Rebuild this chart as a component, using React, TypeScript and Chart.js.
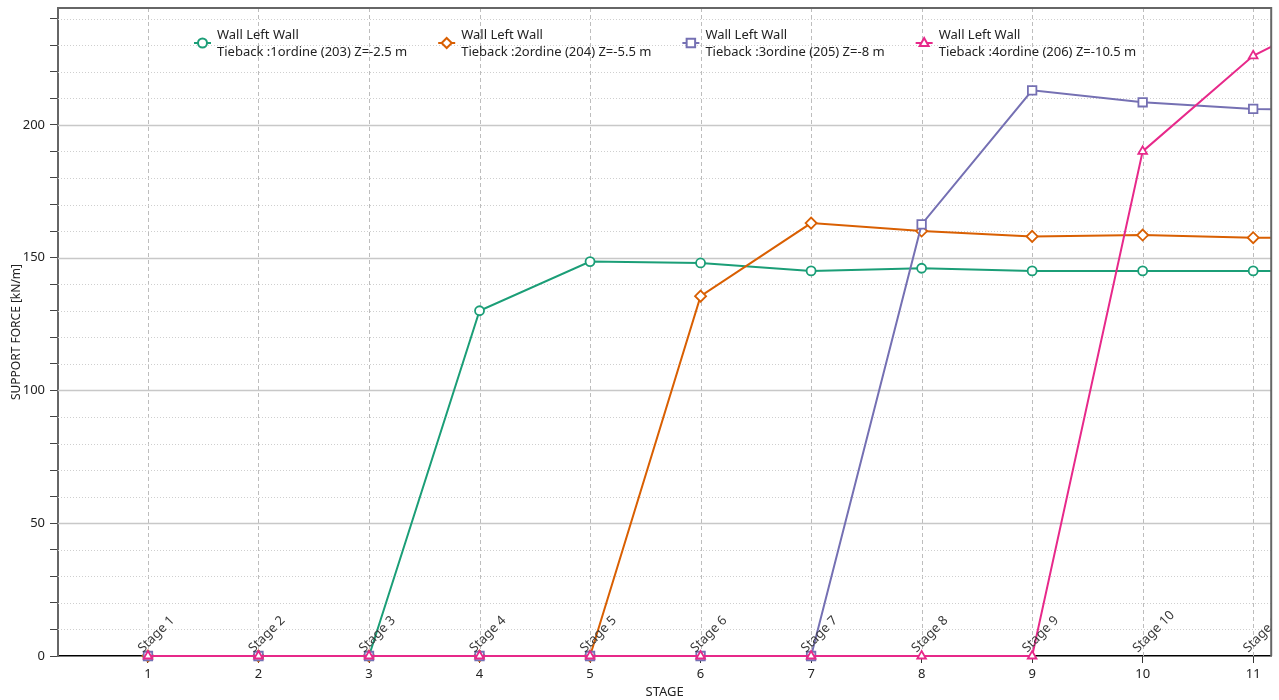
import React, { useEffect, useRef } from 'react';
import { Chart, registerables } from 'chart.js';

Chart.register(...registerables);

const FONT = "'Segoe UI', 'Noto Sans', sans-serif";

// x positions (stages). Stage 12 lies beyond the visible right edge (clipped).
const STAGES = [1, 2, 3, 4, 5, 6, 7, 8, 9, 10, 11, 12];
const STAGE_TICKS = [1, 2, 3, 4, 5, 6, 7, 8, 9, 10, 11];
const STAGE_LABELS = ['Stage 1', 'Stage 2', 'Stage 3', 'Stage 4', 'Stage 5', 'Stage 6', 'Stage 7', 'Stage 8', 'Stage 9', 'Stage 10', 'Stage 11'];
const Y_TICKS = [0, 10, 20, 30, 40, 50, 60, 70, 80, 90, 100, 110, 120, 130, 140, 150, 160, 170, 180, 190, 200, 210, 220, 230, 240];

const LEGEND_TITLE = 'Wall Left Wall';
const SERIES_NAMES = [
  'Tieback :1ordine (203) Z=-2.5 m',
  'Tieback :2ordine (204) Z=-5.5 m',
  'Tieback :3ordine (205) Z=-8 m',
  'Tieback :4ordine (206) Z=-10.5 m',
];
const TIEBACK_1 = [0, 0, 0, 130, 148.5, 148, 145, 146, 145, 145, 145, 145];
const TIEBACK_2 = [0, 0, 0, 0, 0, 135.5, 163, 160, 158, 158.5, 157.5, 157.5];
const TIEBACK_3 = [0, 0, 0, 0, 0, 0, 0, 162.5, 213, 208.5, 206, 205.5];
const TIEBACK_4 = [0, 0, 0, 0, 0, 0, 0, 0, 0, 190, 226, 247];
const COLORS = ['#1b9e77', '#d95f02', '#7570b3', '#e7298a'];
const MARKERS = ['circle', 'rectRot', 'rect', 'triangle'];
const MARKER_RADIUS = [4.5, 5.5, 6, 5];

const X_MIN = 0.186;
const X_MAX = 11.163;
const Y_MIN = 0;
const Y_MAX = 244;

const gridPlugin = {
  id: 'customGrid',
  beforeDatasetsDraw(chart: any) {
    const { ctx, chartArea, scales } = chart;
    const xs = scales.x;
    const ys = scales.y;
    ctx.save();
    ctx.strokeStyle = '#bdbdbd';
    ctx.lineWidth = 1;
    ctx.setLineDash([4, 3]);
    STAGE_TICKS.forEach((v) => {
      const px = Math.round(xs.getPixelForValue(v)) + 0.5;
      ctx.beginPath();
      ctx.moveTo(px, chartArea.top);
      ctx.lineTo(px, chartArea.bottom);
      ctx.stroke();
    });
    Y_TICKS.forEach((v) => {
      if (v === 0) return;
      const py = Math.round(ys.getPixelForValue(v)) + 0.5;
      if (v % 50 === 0) {
        ctx.setLineDash([]);
        ctx.strokeStyle = '#c8c8c8';
        ctx.lineWidth = 1.5;
      } else {
        ctx.setLineDash([1, 2]);
        ctx.strokeStyle = '#cfcfcf';
        ctx.lineWidth = 1;
      }
      ctx.beginPath();
      ctx.moveTo(chartArea.left, py);
      ctx.lineTo(chartArea.right, py);
      ctx.stroke();
    });
    ctx.restore();
  },
  afterDatasetsDraw(chart: any) {
    const { ctx, chartArea, scales } = chart;
    const xs = scales.x;
    const ys = scales.y;
    ctx.save();
    ctx.beginPath();
    ctx.rect(0, chartArea.top, chartArea.right, chartArea.bottom - chartArea.top + 6);
    ctx.clip();
    ctx.font = `13px ${FONT}`;
    ctx.fillStyle = '#3a3a3a';
    ctx.textAlign = 'left';
    ctx.textBaseline = 'alphabetic';
    STAGE_LABELS.forEach((lab, i) => {
      const px = xs.getPixelForValue(STAGE_TICKS[i]);
      const py = ys.getPixelForValue(0);
      ctx.save();
      ctx.translate(px - 5, py - 3);
      ctx.rotate(-Math.PI / 4);
      ctx.fillText(lab, 0, 0);
      ctx.restore();
    });
    ctx.restore();
  },
  afterDraw(chart: any) {
    const { ctx, chartArea } = chart;
    ctx.save();
    ctx.strokeStyle = '#666';
    ctx.lineWidth = 2;
    ctx.beginPath();
    ctx.moveTo(chartArea.left, chartArea.top);
    ctx.lineTo(chartArea.right, chartArea.top);
    ctx.lineTo(chartArea.right, chartArea.bottom);
    ctx.stroke();

    ctx.font = `13px ${FONT}`;
    ctx.textAlign = 'left';
    ctx.textBaseline = 'middle';
    let x = 194;
    const y1 = 35;
    const y2 = 52;
    const ym = 43;
    SERIES_NAMES.forEach((name, i) => {
      const color = COLORS[i];
      ctx.strokeStyle = color;
      ctx.lineWidth = 2;
      ctx.setLineDash([]);
      ctx.beginPath();
      ctx.moveTo(x, ym);
      ctx.lineTo(x + 17, ym);
      ctx.stroke();
      ctx.save();
      ctx.fillStyle = '#fff';
      ctx.strokeStyle = color;
      ctx.lineWidth = 2;
      const cx = x + 8.5;
      const r = MARKER_RADIUS[i];
      ctx.beginPath();
      if (MARKERS[i] === 'circle') {
        ctx.arc(cx, ym, r, 0, Math.PI * 2);
      } else if (MARKERS[i] === 'rectRot') {
        const s = r * Math.SQRT1_2 * 1.3;
        ctx.moveTo(cx, ym - s);
        ctx.lineTo(cx + s, ym);
        ctx.lineTo(cx, ym + s);
        ctx.lineTo(cx - s, ym);
        ctx.closePath();
      } else if (MARKERS[i] === 'rect') {
        const s = r * Math.SQRT1_2;
        ctx.rect(cx - s, ym - s, 2 * s, 2 * s);
      } else {
        const h = r;
        ctx.moveTo(cx, ym - h);
        ctx.lineTo(cx + h * 0.9, ym + h * 0.6);
        ctx.lineTo(cx - h * 0.9, ym + h * 0.6);
        ctx.closePath();
      }
      ctx.fill();
      ctx.stroke();
      ctx.restore();
      ctx.fillStyle = '#222';
      ctx.fillText(LEGEND_TITLE, x + 23, y1);
      ctx.fillText(name, x + 23, y2);
      const w = Math.max(ctx.measureText(LEGEND_TITLE).width, ctx.measureText(name).width);
      x += 23 + w + 31;
    });
    ctx.restore();
  },
};

export default function App() {
  const ref = useRef<HTMLCanvasElement>(null);
  useEffect(() => {
    document.body.style.margin = '0';
    const series = [TIEBACK_1, TIEBACK_2, TIEBACK_3, TIEBACK_4];
    const datasets = series.map((vals, i) => ({
      label: SERIES_NAMES[i],
      data: vals.map((v, j) => ({ x: STAGES[j], y: v })),
      borderColor: COLORS[i],
      backgroundColor: '#ffffff',
      borderWidth: 2,
      pointStyle: MARKERS[i],
      pointRadius: MARKER_RADIUS[i],
      pointBorderWidth: 1.8,
      pointBackgroundColor: '#ffffff',
      pointBorderColor: COLORS[i],
      tension: 0,
      order: 4 - i,
      clip: { left: false, top: 0, right: 0, bottom: false },
    }));
    const chart = new Chart(ref.current as HTMLCanvasElement, {
      type: 'line',
      data: { datasets } as any,
      options: {
        animation: false,
        responsive: false,
        layout: { padding: { left: 0, right: 7, top: 8, bottom: 0 } },
        plugins: { legend: { display: false }, tooltip: { enabled: false } },
        scales: {
          x: {
            type: 'linear',
            min: X_MIN,
            max: X_MAX,
            afterBuildTicks: (s: any) => {
              s.ticks = STAGE_TICKS.map((v) => ({ value: v }));
            },
            afterFit: (s: any) => {
              s.height = 44;
              s.paddingLeft = 0;
              s.paddingRight = 0;
            },
            grid: { drawOnChartArea: false, drawTicks: true, tickLength: 7, tickColor: '#333', tickWidth: 1 },
            border: { color: '#000', width: 1.5 },
            ticks: {
              autoSkip: false,
              maxRotation: 0,
              padding: 3,
              color: '#222',
              font: { family: FONT, size: 13 },
              callback: (v: any) => String(v),
            },
            title: {
              display: true,
              text: 'STAGE',
              color: '#222',
              font: { family: FONT, size: 13 },
              padding: { top: 0, bottom: 0 },
            },
          },
          y: {
            type: 'linear',
            min: Y_MIN,
            max: Y_MAX,
            afterBuildTicks: (s: any) => {
              s.ticks = Y_TICKS.map((v) => ({ value: v }));
            },
            afterFit: (s: any) => {
              s.width = 58;
              s.paddingTop = 0;
              s.paddingBottom = 0;
            },
            grid: { drawOnChartArea: false, drawTicks: true, tickLength: 8, tickColor: '#444', tickWidth: 1 },
            border: { color: '#666', width: 2 },
            ticks: {
              autoSkip: false,
              padding: 5,
              color: '#222',
              font: { family: FONT, size: 13 },
              callback: (v: any) => (Number(v) % 50 === 0 ? String(v) : ''),
            },
            title: {
              display: true,
              text: 'SUPPORT FORCE [kN/m]',
              color: '#222',
              font: { family: FONT, size: 12 },
              padding: { top: 9, bottom: 0 },
            },
          },
        },
      },
      plugins: [gridPlugin],
    } as any);
    return () => chart.destroy();
  }, []);
  return (
    <div style={{ width: 1279, height: 700 }}>
      <canvas ref={ref} width={1279} height={700} style={{ display: 'block' }} />
    </div>
  );
}
